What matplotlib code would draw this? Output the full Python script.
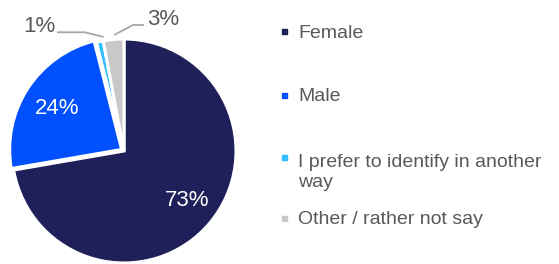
import matplotlib.pyplot as plt

plt.rcParams['font.family'] = ['Liberation Sans', 'DejaVu Sans']

labels = ['Female', 'Male', 'I prefer to identify in another\nway', 'Other / rather not say']
values = [73, 24, 1, 3]
pct_text = ['73%', '24%', '1%', '3%']
colors = ['#1f1f5a', '#0050ff', '#33bfff', '#c8c8c8']
explode = [0, 0.025, 0, 0]

W, H = 559, 264
cx, cy, r = 124, 151, 112   # pie centre / radius in pixels
lim = 1.05

fig = plt.figure(figsize=(W / 100, H / 100), dpi=100)
side = 2 * lim * r
ax = fig.add_axes([(cx - lim * r) / W, (H - cy - lim * r) / H, side / W, side / H])

wedges, _ = ax.pie(values, colors=colors, startangle=90, counterclock=False,
                   explode=explode, radius=1,
                   wedgeprops=dict(edgecolor='white', linewidth=2.2))
ax.set_xlim(-lim, lim)
ax.set_ylim(-lim, lim)
ax.set_aspect('equal')
ax.axis('off')

# labels inside the two big slices
ax.text(0.5625, -0.4375, pct_text[0], color='white', fontsize=16, ha='center', va='center')
ax.text(-0.601, 0.381, pct_text[1], color='white', fontsize=16, ha='center', va='center')

# outside labels with leader lines
grey = '#595959'
line_c = '#a6a6a6'
ax.text(-0.754, 1.116, pct_text[2], color=grey, fontsize=16, ha='center', va='center')
ax.plot([-0.59, -0.35, -0.19], [1.06, 1.06, 1.02], color=line_c, lw=1.3, clip_on=False)
ax.text(0.348, 1.174, pct_text[3], color=grey, fontsize=16, ha='center', va='center')
ax.plot([0.17, 0.08, -0.08], [1.125, 1.125, 1.04], color=line_c, lw=1.3, clip_on=False)

# legend, placed by hand (multi-line entry is top aligned)
marker_y = [32, 95, 157, 218]
baselines = [38.5, 101, 187, 224.3]   # baseline of the last line of each entry
for lab, col, ym, yb in zip(labels, colors, marker_y, baselines):
    fig.patches.append(plt.Rectangle((282 / W, 1 - (ym + 2.5) / H), 5 / W, 5 / H,
                                     transform=fig.transFigure, color=col))
    fig.text(298 / W, 1 - yb / H, lab, fontsize=14, color=grey,
             ha='left', va='baseline', linespacing=1.25)

fig.savefig('out.png', dpi=100)
